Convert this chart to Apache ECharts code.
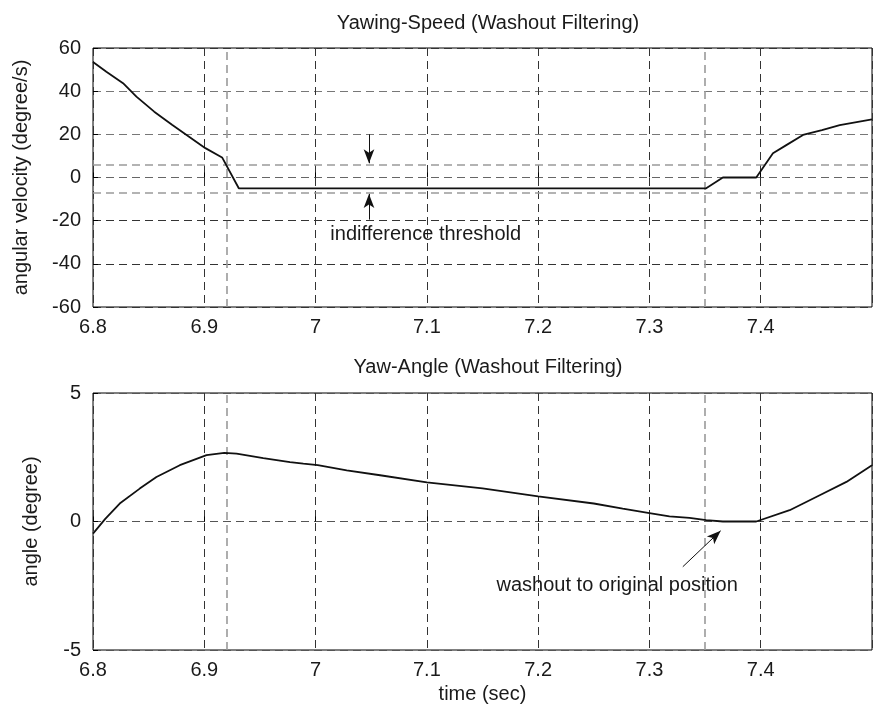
<!DOCTYPE html>
<html>
<head>
<meta charset="utf-8">
<script src="https://cdn.jsdelivr.net/npm/echarts@6/dist/echarts.min.js"></script>
<style>html,body{margin:0;padding:0;background:#fff}#c{width:874px;height:720px}</style>
</head>
<body>
<div id="c"></div>
<script>
// ---- data ----
var speedTime = [6.8, 6.812, 6.827, 6.839, 6.855, 6.871, 6.886, 6.901, 6.916, 6.931, 7.351, 7.366, 7.396, 7.411, 7.423, 7.438, 7.455, 7.471, 7.5];
var speedValue = [53.5, 49, 43.7, 37.5, 30.5, 24.4, 19, 13.6, 9.3, -5, -5, 0, 0, 11.2, 15, 19.7, 22, 24.3, 26.9];
var angleTime = [6.8, 6.811, 6.824, 6.842, 6.857, 6.878, 6.902, 6.918, 6.929, 6.953, 6.977, 6.989, 7.002, 7.028, 7.058, 7.1, 7.15, 7.2, 7.25, 7.276, 7.3, 7.318, 7.336, 7.351, 7.366, 7.396, 7.426, 7.453, 7.477, 7.5];
var angleValue = [-0.47, 0.1, 0.7, 1.28, 1.73, 2.19, 2.58, 2.67, 2.64, 2.47, 2.31, 2.25, 2.19, 1.99, 1.8, 1.52, 1.29, 0.98, 0.7, 0.5, 0.33, 0.2, 0.14, 0.05, 0, 0, 0.44, 1.02, 1.54, 2.19];
var markerTimes = [6.917, 7.352];
var thresholds = [6, -7];
var titles = ['Yawing-Speed (Washout Filtering)', 'Yaw-Angle (Washout Filtering)'];
var yNames = ['angular velocity (degree/s)', 'angle (degree)'];
var xName = 'time (sec)';
var note1 = 'indifference threshold';
var note2 = 'washout to original position';

function zip(a, b) { return a.map(function (t, i) { return [t, b[i]]; }); }

var FONT = 'Liberation Sans, Arial, sans-serif';
var FS = 20;
var TXT = '#1a1a1a';
var DASH = [8, 5];
var grayDash = { color: '#9a9a9a', type: DASH, width: 1.6 };
var arrowStart = { symbol: 'none', lineStyle: { color: '#111', type: 'solid', width: 1 } };

function xAxisCfg(idx, withName) {
  return {
    type: 'value', gridIndex: idx, min: 6.8, max: 7.5, interval: 0.1,
    axisLine: { show: false },
    axisTick: { inside: true, length: 5, lineStyle: { color: '#000' } },
    axisLabel: { color: TXT, fontSize: FS, fontFamily: FONT, margin: 10, showMaxLabel: false },
    splitLine: { show: true, lineStyle: { color: '#333', type: DASH, width: 1 } },
    name: withName ? xName : '', nameLocation: 'middle', nameGap: 34,
    nameTextStyle: { color: TXT, fontSize: FS, fontFamily: FONT }
  };
}

var chart = echarts.init(document.getElementById('c'));
var option = {
  animation: false,
  backgroundColor: '#fff',
  title: [
    { text: titles[0], left: 483, top: 8, textAlign: 'center', textStyle: { fontSize: FS, fontWeight: 'normal', color: TXT, fontFamily: FONT } },
    { text: titles[1], left: 483, top: 352, textAlign: 'center', textStyle: { fontSize: FS, fontWeight: 'normal', color: TXT, fontFamily: FONT } }
  ],
  grid: [
    { left: 93, right: 2, top: 48, height: 259, show: true, borderColor: '#000', borderWidth: 1, backgroundColor: 'transparent' },
    { left: 93, right: 2, top: 393, height: 257, show: true, borderColor: '#000', borderWidth: 1, backgroundColor: 'transparent' }
  ],
  xAxis: [xAxisCfg(0, false), xAxisCfg(1, true)],
  yAxis: [
    {
      type: 'value', gridIndex: 0, min: -60, max: 60, interval: 20,
      axisLine: { show: false },
      axisTick: { inside: true, length: 5, lineStyle: { color: '#000' } },
      axisLabel: { color: TXT, fontSize: FS, fontFamily: FONT, margin: 12 },
      splitLine: { show: true, lineStyle: { color: ['#333', '#333', '#333', '#666', '#777', '#777', '#333'], type: DASH, width: 1 } },
      name: yNames[0], nameLocation: 'middle', nameGap: 62, nameRotate: 90,
      nameTextStyle: { color: TXT, fontSize: FS, fontFamily: FONT }
    },
    {
      type: 'value', gridIndex: 1, min: -5, max: 5, interval: 5,
      axisLine: { show: false },
      axisTick: { inside: true, length: 5, lineStyle: { color: '#000' } },
      axisLabel: { color: TXT, fontSize: FS, fontFamily: FONT, margin: 12 },
      splitLine: { show: true, lineStyle: { color: '#555', type: DASH, width: 1 } },
      name: yNames[1], nameLocation: 'middle', nameGap: 52, nameRotate: 90,
      nameTextStyle: { color: TXT, fontSize: FS, fontFamily: FONT }
    }
  ],
  series: [
    {
      type: 'line', xAxisIndex: 0, yAxisIndex: 0, data: zip(speedTime, speedValue),
      showSymbol: false, lineStyle: { color: '#111', width: 1.8 }, silent: true, z: 5,
      markLine: {
        silent: true, symbol: 'none', animation: false, label: { show: false },
        lineStyle: grayDash,
        data: markerTimes.map(function (t) { return { xAxis: t }; })
          .concat(thresholds.map(function (v) { return { yAxis: v }; }))
          .concat([
            [Object.assign({ coord: [7.048, 20] }, arrowStart), { coord: [7.048, 6.6], symbol: 'arrow', symbolSize: [8, 14] }],
            [Object.assign({ coord: [7.048, -19.5] }, arrowStart), { coord: [7.048, -7.6], symbol: 'arrow', symbolSize: [8, 14] }]
          ])
      },
      markPoint: {
        silent: true, symbol: 'circle', symbolSize: 0,
        label: { show: true, color: TXT, fontSize: FS, fontFamily: FONT, position: 'inside', formatter: note1 },
        data: [{ coord: [7.099, -26.2] }]
      }
    },
    {
      type: 'line', xAxisIndex: 1, yAxisIndex: 1, data: zip(angleTime, angleValue),
      showSymbol: false, lineStyle: { color: '#111', width: 1.8 }, silent: true, z: 5,
      markLine: {
        silent: true, symbol: 'none', animation: false, label: { show: false },
        lineStyle: grayDash,
        data: markerTimes.map(function (t) { return { xAxis: t }; })
          .concat([
            [Object.assign({ coord: [7.33, -1.76] }, arrowStart), { coord: [7.364, -0.36], symbol: 'arrow', symbolSize: [8, 14] }]
          ])
      },
      markPoint: {
        silent: true, symbol: 'circle', symbolSize: 0,
        label: { show: true, color: TXT, fontSize: FS, fontFamily: FONT, position: 'inside', formatter: note2 },
        data: [{ coord: [7.271, -2.48] }]
      }
    }
  ]
};
chart.setOption(option);
</script>
</body>
</html>
